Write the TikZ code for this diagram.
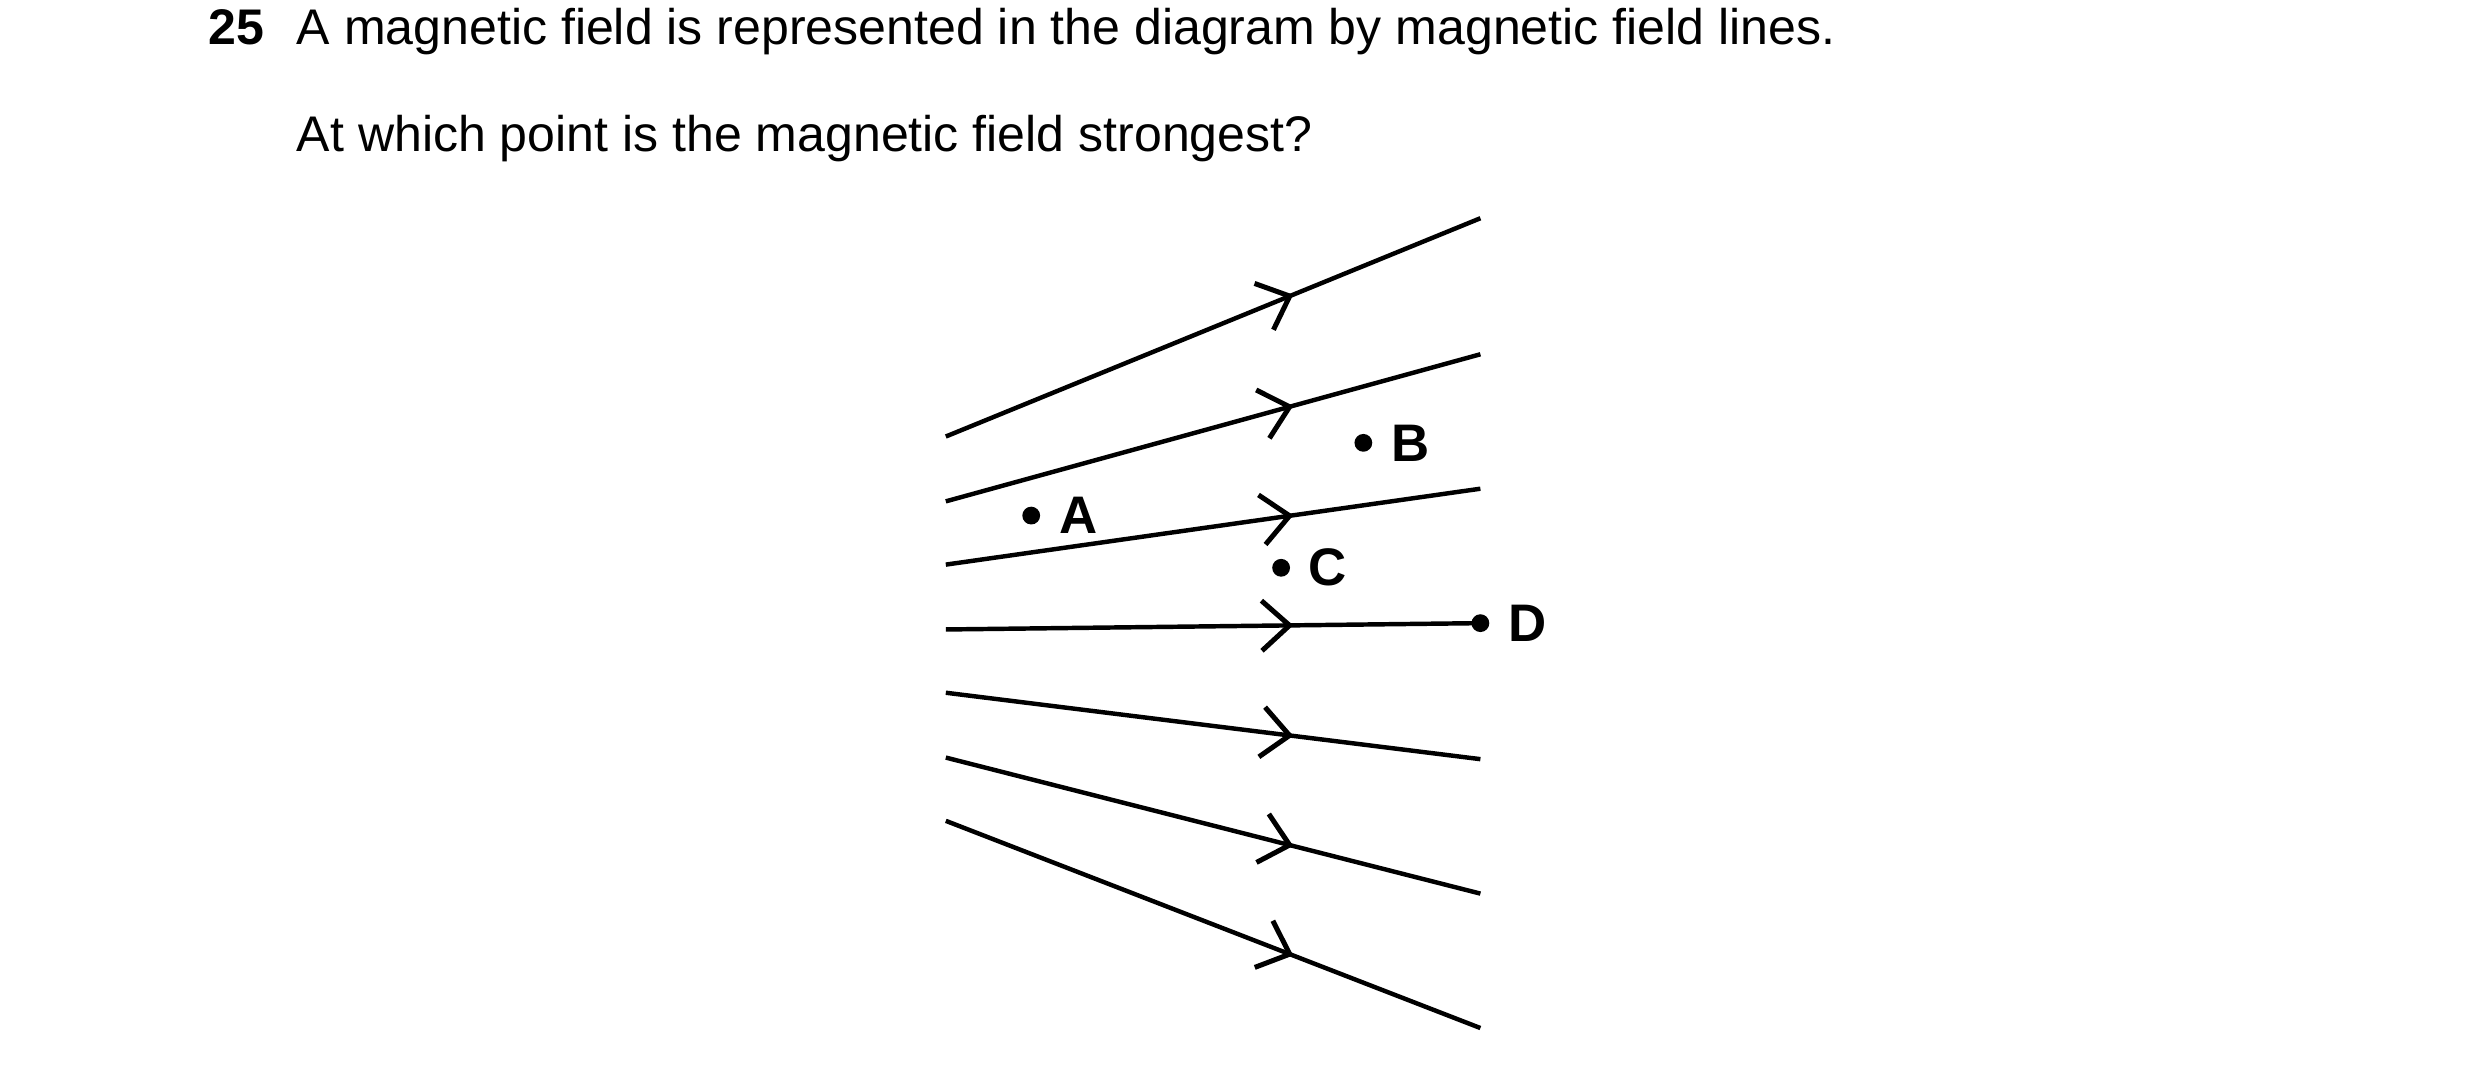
\documentclass[tikz,border=0pt]{standalone}
\usepackage{fontspec}
\setmainfont{Liberation Sans}
\usetikzlibrary{decorations.markings,arrows.meta}
\tikzset{
  fieldline/.style={thick,postaction={decorate},decoration={markings,
    mark=at position .65 with {\arrow{Straight Barb[length=5pt,width=9pt,line width=.9pt]}}}},
  pt/.style={circle,fill=black,inner sep=0pt,minimum size=3.2pt},
  lbl/.style={font=\fontsize{9.5pt}{11pt}\selectfont\bfseries,inner sep=1pt},
  txt/.style={font=\fontsize{9pt}{11pt}\selectfont,anchor=base west,inner sep=0pt}
}
\begin{document}
\begin{tikzpicture}[x=0.01cm,y=-0.01cm]
  \useasboundingbox (0,0) rectangle (1568,677);
  % question text
  \node[txt,font=\fontsize{9pt}{11pt}\selectfont\bfseries] (num) at (131,28) {25};
  \node[txt] (q1) at (187,28) {A magnetic field is represented in the diagram by magnetic field lines.};
  \node[txt] (q2) at (187,96) {At which point is the magnetic field strongest?};
  % field lines
  \draw[fieldline] (598,276)--(936,138);
  \draw[fieldline] (598,317)--(936,224);
  \draw[fieldline] (598,357)--(936,309);
  \draw[fieldline] (598,398)--(936,394);
  \draw[fieldline] (598,438)--(936,480);
  \draw[fieldline] (598,479)--(936,565);
  \draw[fieldline] (598,519)--(936,650);
  % points
  \node[pt] (A) at (652,326) {};
  \node[lbl,right=2pt] at (A.east) {A};
  \node[pt] (B) at (862,280) {};
  \node[lbl,right=2pt] at (B.east) {B};
  \node[pt] (C) at (810,359) {};
  \node[lbl,right=2pt] at (C.east) {C};
  \node[pt] (D) at (936,394) {};
  \node[lbl,right=2pt] at (D.east) {D};
\end{tikzpicture}
\end{document}
